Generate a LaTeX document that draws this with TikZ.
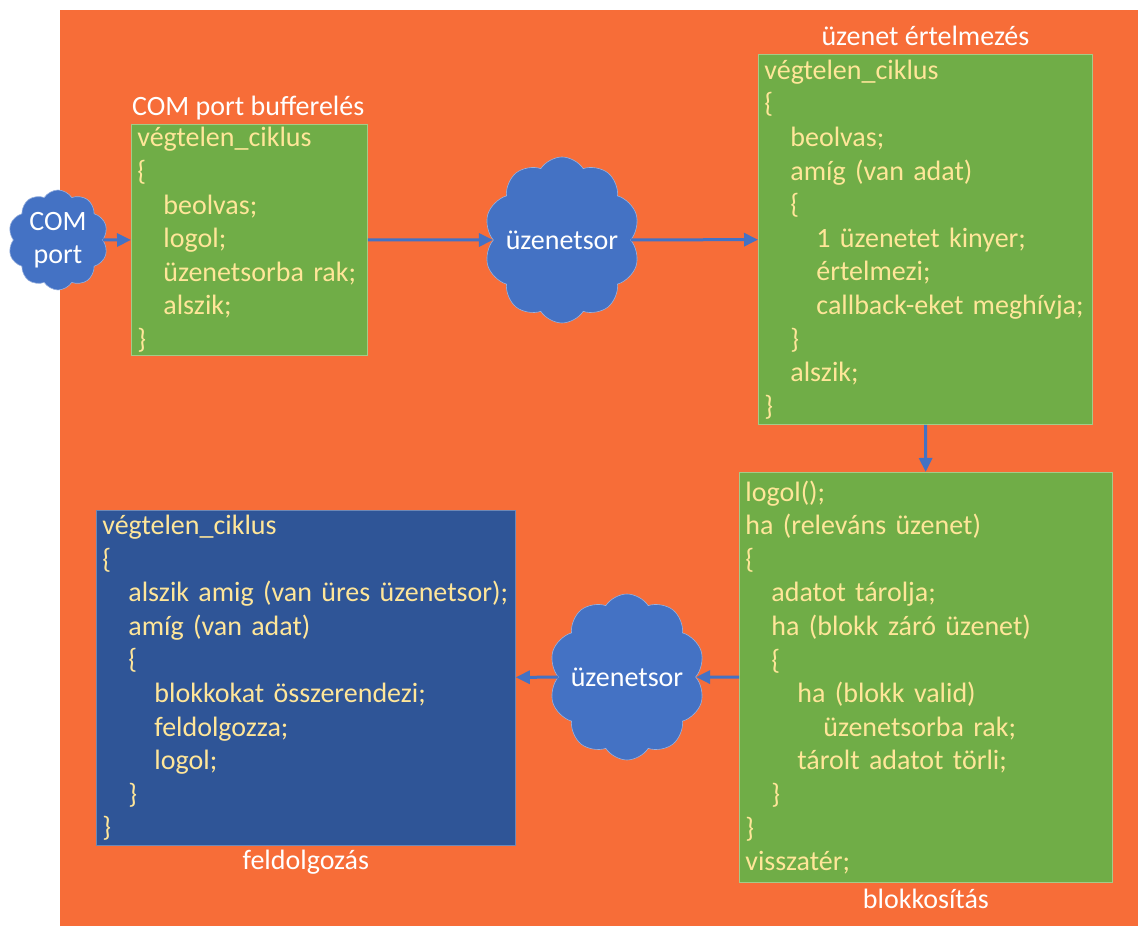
\documentclass[tikz,border=0pt]{standalone}
\usepackage{fontspec}
\setmainfont{Carlito}
\usetikzlibrary{shapes.symbols,arrows.meta}

\definecolor{hatter}{HTML}{F76D38}
\definecolor{zold}{HTML}{70AD47}
\definecolor{zoldkeret}{HTML}{A4CB88}
\definecolor{sotetkek}{HTML}{2F5597}
\definecolor{felhokek}{HTML}{4472C4}
\definecolor{sarga}{HTML}{FFE699}

\newcommand{\kbeh}{\hspace*{26pt}}

\tikzset{
    kod/.style={anchor=north west, align=left, inner xsep=6pt, inner ysep=0pt,
        text=sarga, line width=0.8pt, font=\fontsize{28}{33.6}\selectfont},
    cim/.style={text=white, inner sep=1pt, text height=21pt, text depth=7pt,
        font=\fontsize{28}{33.6}\selectfont},
    felho/.style={cloud, cloud puffs=10, cloud puff arc=115, aspect=1,
        fill=felhokek, draw=felhokek!55!white, line width=0.6pt, inner sep=0pt,
        text=white, align=center, font=\fontsize{28}{33.6}\selectfont},
    nyil/.style={-{Triangle[length=14pt,width=13pt]}, felhokek, line width=3pt},
}

\begin{document}
\begin{tikzpicture}[x=1pt, y=1pt]
    \useasboundingbox (0,0) rectangle (1138,926);

    % Background
    \fill[hatter] (60,0) rectangle (1138,916);

    % COM port buffering
    \node[kod, fill=zold, draw=zoldkeret, text width=224pt, minimum height=231pt] (buf) at (131,802)
        {végtelen\_ciklus\\
         \{\\
         \kbeh beolvas;\\
         \kbeh logol;\\
         \kbeh üzenetsorba rak;\\
         \kbeh alszik;\\
         \}};
    \node[cim, above right] (bufcim) at (buf.north west) {COM port bufferelés};

    % Message interpretation
    \node[kod, fill=zold, draw=zoldkeret, text width=322pt, minimum height=370pt] (ert) at (758,872)
        {végtelen\_ciklus\\
         \{\\
         \kbeh beolvas;\\
         \kbeh amíg (van adat)\\
         \kbeh \{\\
         \kbeh\kbeh 1 üzenetet kinyer;\\
         \kbeh\kbeh értelmezi;\\
         \kbeh\kbeh callback-eket meghívja;\\
         \kbeh \}\\
         \kbeh alszik;\\
         \}};
    \node[cim, above] (ertcim) at (ert.north) {üzenet értelmezés};

    % Blocking
    \node[kod, fill=zold, draw=zoldkeret, text width=361pt, minimum height=410pt] (blk) at (739,454)
        {logol();\\
         ha (releváns üzenet)\\
         \{\\
         \kbeh adatot tárolja;\\
         \kbeh ha (blokk záró üzenet)\\
         \kbeh \{\\
         \kbeh\kbeh ha (blokk valid)\\
         \kbeh\kbeh\kbeh üzenetsorba rak;\\
         \kbeh\kbeh tárolt adatot törli;\\
         \kbeh \}\\
         \}\\
         visszatér;};
    \node[cim, below=4pt] (blkcim) at (blk.south) {blokkosítás};

    % Processing
    \node[kod, fill=sotetkek, draw=sotetkek!70!white, text width=407pt, minimum height=335pt] (feld) at (96,416)
        {végtelen\_ciklus\\
         \{\\
         \kbeh alszik amig (van üres üzenetsor);\\
         \kbeh amíg (van adat)\\
         \kbeh \{\\
         \kbeh\kbeh blokkokat összerendezi;\\
         \kbeh\kbeh feldolgozza;\\
         \kbeh\kbeh logol;\\
         \kbeh \}\\
         \}};
    \node[cim, below=2pt] (feldcim) at (feld.south) {feldolgozás};

    % Clouds
    \node[felho, minimum width=100pt, minimum height=100pt] (comport) at (58,686) {COM\\port};
    \node[felho, minimum width=156pt, minimum height=166pt] (sor1) at (562,686) {\makebox[0pt]{üzenetsor}};
    \node[felho, minimum width=156pt, minimum height=166pt] (sor2) at (627,249) {\makebox[0pt]{üzenetsor}};

    % Arrows
    \draw[nyil] (comport) -- (buf);
    \draw[nyil] (buf) -- (sor1);
    \draw[nyil] (sor1) -- (ert);
    \draw[nyil] (ert) -- (blk);
    \draw[nyil] (blk) -- (sor2);
    \draw[nyil] (sor2) -- (feld);
\end{tikzpicture}
\end{document}
